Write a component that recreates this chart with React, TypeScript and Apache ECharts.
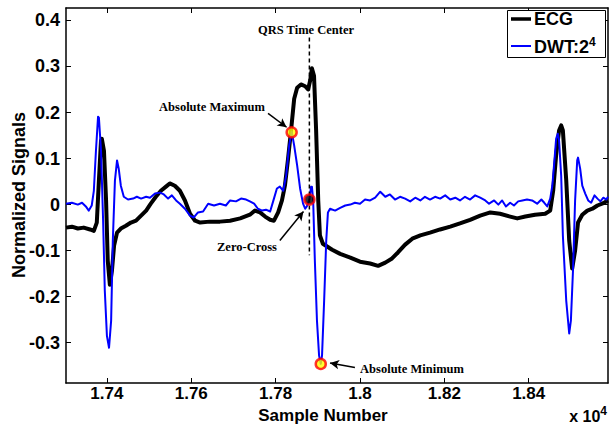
import React, { useEffect, useRef } from "react";
import * as echarts from "echarts";

// ---- data ----
const ecgSamples = [17303, 17317, 17331, 17345, 17360, 17369, 17376, 17381, 17386, 17388, 17393, 17398, 17402, 17407, 17412, 17417, 17424, 17433, 17445, 17457, 17469, 17481, 17493, 17504, 17516, 17528, 17540, 17549, 17561, 17573, 17585, 17597, 17609, 17621, 17644, 17668, 17692, 17716, 17739, 17751, 17763, 17775, 17787, 17796, 17806, 17815, 17822, 17829, 17837, 17844, 17851, 17860, 17870, 17877, 17882, 17886, 17891, 17896, 17901, 17905, 17912, 17922, 17934, 17953, 17977, 18000, 18024, 18043, 18060, 18076, 18090, 18107, 18124, 18143, 18166, 18190, 18214, 18237, 18261, 18285, 18309, 18332, 18356, 18373, 18392, 18415, 18439, 18451, 18458, 18465, 18472, 18477, 18481, 18489, 18496, 18503, 18510, 18517, 18527, 18539, 18551, 18563, 18574, 18588];
const ecgValues = [-0.05, -0.048, -0.052, -0.05, -0.054, -0.057, -0.039, 0.052, 0.139, 0.143, 0.117, 0.009, -0.122, -0.174, -0.143, -0.089, -0.061, -0.052, -0.046, -0.039, -0.035, -0.024, -0.013, 0.002, 0.017, 0.03, 0.039, 0.046, 0.041, 0.03, 0.009, -0.02, -0.035, -0.039, -0.037, -0.037, -0.035, -0.03, -0.022, -0.013, -0.017, -0.026, -0.033, -0.035, -0.017, 0.009, 0.041, 0.096, 0.165, 0.23, 0.254, 0.261, 0.257, 0.25, 0.27, 0.296, 0.28, 0.161, 0.009, -0.067, -0.085, -0.091, -0.098, -0.107, -0.115, -0.124, -0.128, -0.133, -0.126, -0.117, -0.104, -0.087, -0.074, -0.067, -0.061, -0.054, -0.048, -0.041, -0.033, -0.024, -0.017, -0.02, -0.026, -0.03, -0.026, -0.022, -0.02, -0.013, 0.03, 0.107, 0.161, 0.172, 0.161, 0.052, -0.078, -0.139, -0.1, -0.039, -0.022, -0.013, -0.009, -0.002, 0.002, 0.009];

const dwtSamples = [17303, 17317, 17331, 17341, 17350, 17357, 17364, 17369, 17374, 17379, 17381, 17386, 17391, 17395, 17400, 17405, 17410, 17414, 17419, 17424, 17428, 17433, 17440, 17450, 17462, 17471, 17481, 17493, 17502, 17514, 17526, 17535, 17545, 17554, 17564, 17573, 17585, 17597, 17606, 17616, 17628, 17640, 17654, 17668, 17682, 17692, 17706, 17718, 17730, 17739, 17749, 17758, 17768, 17777, 17787, 17796, 17803, 17810, 17818, 17825, 17832, 17838, 17844, 17851, 17858, 17865, 17870, 17874, 17880, 17884, 17886, 17889, 17893, 17898, 17903, 17907, 17910, 17915, 17920, 17924, 17929, 17941, 17953, 17965, 17977, 17988, 18000, 18012, 18024, 18036, 18048, 18060, 18071, 18083, 18095, 18107, 18119, 18131, 18143, 18154, 18166, 18178, 18190, 18202, 18214, 18226, 18237, 18249, 18261, 18273, 18285, 18297, 18306, 18318, 18328, 18337, 18346, 18356, 18365, 18375, 18385, 18396, 18408, 18420, 18430, 18437, 18444, 18451, 18456, 18461, 18465, 18469, 18472, 18477, 18481, 18489, 18496, 18500, 18505, 18510, 18515, 18517, 18522, 18527, 18534, 18541, 18548, 18556, 18563, 18570, 18577, 18584, 18588];
const dwtValues = [0.002, 0.004, 0.0, 0.004, -0.004, -0.013, -0.002, 0.03, 0.117, 0.191, 0.189, 0.117, -0.035, -0.187, -0.285, -0.311, -0.252, -0.078, 0.052, 0.096, 0.078, 0.041, 0.017, 0.011, 0.013, 0.017, 0.013, 0.017, 0.015, 0.024, 0.026, 0.022, 0.013, 0.02, 0.009, 0.002, -0.009, -0.024, -0.028, -0.017, -0.015, 0.002, -0.002, 0.002, -0.002, 0.009, 0.007, 0.013, 0.011, 0.007, 0.002, -0.009, -0.013, -0.011, -0.015, 0.013, 0.035, 0.039, 0.03, 0.063, 0.128, 0.159, 0.128, 0.085, 0.035, 0.002, -0.009, -0.004, 0.011, 0.039, 0.039, 0.009, -0.122, -0.252, -0.328, -0.346, -0.328, -0.209, -0.078, -0.017, -0.009, -0.013, -0.007, -0.002, 0.0, 0.004, 0.002, 0.011, 0.009, 0.015, 0.028, 0.017, 0.022, 0.011, 0.017, 0.013, 0.007, 0.015, 0.009, 0.017, 0.011, 0.017, 0.013, 0.02, 0.011, 0.015, 0.009, 0.017, 0.011, 0.02, 0.015, 0.009, 0.002, 0.009, 0.0, 0.009, -0.004, 0.004, -0.002, 0.007, 0.009, 0.011, 0.009, 0.002, 0.011, 0.004, -0.004, 0.013, 0.041, 0.096, 0.143, 0.154, 0.139, 0.063, -0.067, -0.209, -0.28, -0.252, -0.143, 0.009, 0.096, 0.102, 0.078, 0.041, 0.024, 0.009, 0.004, 0.02, 0.013, 0.007, 0.015, 0.011, 0.017];

// key points: absolute maximum, zero-cross, absolute minimum
const keySamples = [17838, 17880, 17907];
const keyValues = [0.157, 0.011, -0.346];

const qrsCenter = 17880;
const qrsLineRange = [0.363, -0.11];

const xTicks = [17400, 17600, 17800, 18000, 18200, 18400];
const yTicks = [-0.3, -0.2, -0.1, 0, 0.1, 0.2, 0.3, 0.4];

// arrows: [fromSample, fromValue, toSample, toValue]
const arrowMax = [17782, 0.198, 17826, 0.168];
const arrowZero = [17810, -0.078, 17866, -0.015];
const arrowMin = [17988, -0.354, 17929, -0.344];

const X_MIN = 17303;
const X_MAX = 18588;
const Y_MIN = -0.3875;
const Y_MAX = 0.427;

const SANS = "'Liberation Sans', Arial, Helvetica, sans-serif";
const SERIF = "'Liberation Serif', 'Times New Roman', serif";

export default function App() {
  const ref = useRef<HTMLDivElement>(null);

  useEffect(() => {
    if (!ref.current) return;
    const chart = echarts.init(ref.current, undefined, { renderer: "svg" });

    const tickCommon = { show: true, inside: true, length: 5, lineStyle: { color: "#000", width: 1 } };
    const axisLineCommon = { show: true, onZero: false, lineStyle: { color: "#000", width: 1.5 } };

    const arrowData = (a: number[]) => [
      { coord: [a[0], a[1]], symbol: "none" },
      { coord: [a[2], a[3]], symbol: "arrow" },
    ];

    const keyFill = ["#FFFF00", "#000000", "#FFFF00"];

    const option: any = {
      animation: false,
      backgroundColor: "#fff",
      grid: { left: 66, right: 1, top: 8, bottom: 43 },
      xAxis: [
        {
          type: "value",
          min: X_MIN,
          max: X_MAX,
          position: "bottom",
          axisLine: axisLineCommon,
          axisTick: { ...tickCommon, customValues: xTicks },
          axisLabel: {
            customValues: xTicks,
            color: "#000",
            fontFamily: SANS,
            fontWeight: "bold",
            fontSize: 17,
            margin: 2,
            lineHeight: 17,
            formatter: (v: number) => String(+(v / 10000).toFixed(2)),
          },
          splitLine: { show: false },
        },
        {
          type: "value",
          min: X_MIN,
          max: X_MAX,
          position: "top",
          axisLine: axisLineCommon,
          axisTick: { ...tickCommon, customValues: xTicks },
          axisLabel: { show: false },
          splitLine: { show: false },
        },
      ],
      yAxis: [
        {
          type: "value",
          min: Y_MIN,
          max: Y_MAX,
          position: "left",
          axisLine: axisLineCommon,
          axisTick: { ...tickCommon, customValues: yTicks },
          axisLabel: {
            customValues: yTicks,
            color: "#000",
            fontFamily: SANS,
            fontWeight: "bold",
            fontSize: 18,
            margin: 6,
            formatter: (v: number) => String(+v.toFixed(2)),
          },
          splitLine: { show: false },
        },
        {
          type: "value",
          min: Y_MIN,
          max: Y_MAX,
          position: "right",
          axisLine: axisLineCommon,
          axisTick: { ...tickCommon, customValues: yTicks },
          axisLabel: { show: false },
          splitLine: { show: false },
        },
      ],
      series: [
        {
          name: "ECG",
          type: "line",
          data: ecgSamples.map((s, i) => [s, ecgValues[i]]),
          showSymbol: false,
          lineStyle: { color: "#000", width: 4, join: "round" },
          z: 2,
        },
        {
          name: "DWT",
          type: "line",
          data: dwtSamples.map((s, i) => [s, dwtValues[i]]),
          showSymbol: false,
          lineStyle: { color: "#0000FF", width: 2, join: "round" },
          z: 3,
        },
        {
          name: "QRS",
          type: "line",
          data: qrsLineRange.map((v) => [qrsCenter, v]),
          showSymbol: false,
          lineStyle: { color: "#000", width: 1.5, type: [4, 3] },
          z: 4,
          markLine: {
            silent: true,
            animation: false,
            symbolSize: [7, 9],
            label: { show: false },
            lineStyle: { color: "#000", width: 1.5, type: "solid" },
            data: [arrowData(arrowMax), arrowData(arrowZero), arrowData(arrowMin)],
          },
        },
        {
          name: "Key",
          type: "scatter",
          data: keySamples.map((s, i) => ({
            value: [s, keyValues[i]],
            itemStyle: { color: keyFill[i], borderColor: "#FF0000", borderWidth: 2.5 },
          })),
          symbol: "circle",
          symbolSize: 10,
          z: 5,
        },
      ],
      graphic: [
        // legend
        { type: "rect", shape: { x: 507.5, y: 10.5, width: 98, height: 47 }, style: { fill: "#fff", stroke: "#000", lineWidth: 1 }, z: 10 },
        { type: "line", shape: { x1: 511, y1: 19, x2: 531, y2: 19 }, style: { stroke: "#000", lineWidth: 3.5 }, z: 11 },
        { type: "text", x: 534, y: 19, style: { text: "ECG", fill: "#000", font: `bold 18px ${SANS}`, textVerticalAlign: "middle" }, z: 11 },
        { type: "line", shape: { x1: 511, y1: 46, x2: 531, y2: 46 }, style: { stroke: "#0000FF", lineWidth: 2 }, z: 11 },
        {
          type: "text",
          x: 534,
          y: 47,
          style: {
            text: "DWT:2{sup|4}",
            fill: "#000",
            font: `bold 18px ${SANS}`,
            textVerticalAlign: "middle",
            rich: { sup: { fontSize: 12, fontWeight: "bold", fontFamily: SANS, verticalAlign: "top", padding: [0, 0, 10, 0] } },
          },
          z: 11,
        },
        // axis titles
        { type: "text", x: 323, y: 415, style: { text: "Sample Number", fill: "#000", font: `bold 17px ${SANS}`, textAlign: "center", textVerticalAlign: "middle" } },
        { type: "text", x: 19, y: 195, rotation: Math.PI / 2, style: { text: "Normalized Signals", fill: "#000", font: `bold 18px ${SANS}`, textAlign: "center", textVerticalAlign: "middle" } },
        {
          type: "text",
          x: 607,
          y: 416,
          style: {
            text: "x 10{sup|4}",
            fill: "#000",
            font: `bold 16px ${SANS}`,
            textAlign: "right",
            textVerticalAlign: "middle",
            rich: { sup: { fontSize: 12, fontWeight: "bold", fontFamily: SANS, padding: [0, 0, 10, 0] } },
          },
        },
        // annotations
        { type: "text", x: 306, y: 30, style: { text: "QRS Time Center", fill: "#000", font: `bold 12.5px ${SERIF}`, textAlign: "center", textVerticalAlign: "middle" } },
        { type: "text", x: 212, y: 107, style: { text: "Absolute Maximum", fill: "#000", font: `bold 12.5px ${SERIF}`, textAlign: "center", textVerticalAlign: "middle" } },
        { type: "text", x: 247, y: 247, style: { text: "Zero-Cross", fill: "#000", font: `bold 12.5px ${SERIF}`, textAlign: "center", textVerticalAlign: "middle" } },
        { type: "text", x: 412, y: 369, style: { text: "Absolute Minimum", fill: "#000", font: `bold 12.5px ${SERIF}`, textAlign: "center", textVerticalAlign: "middle" } },
      ],
    };

    chart.setOption(option);
    return () => chart.dispose();
  }, []);

  return <div ref={ref} style={{ position: "fixed", left: 0, top: 0, width: 609, height: 426 }} />;
}
